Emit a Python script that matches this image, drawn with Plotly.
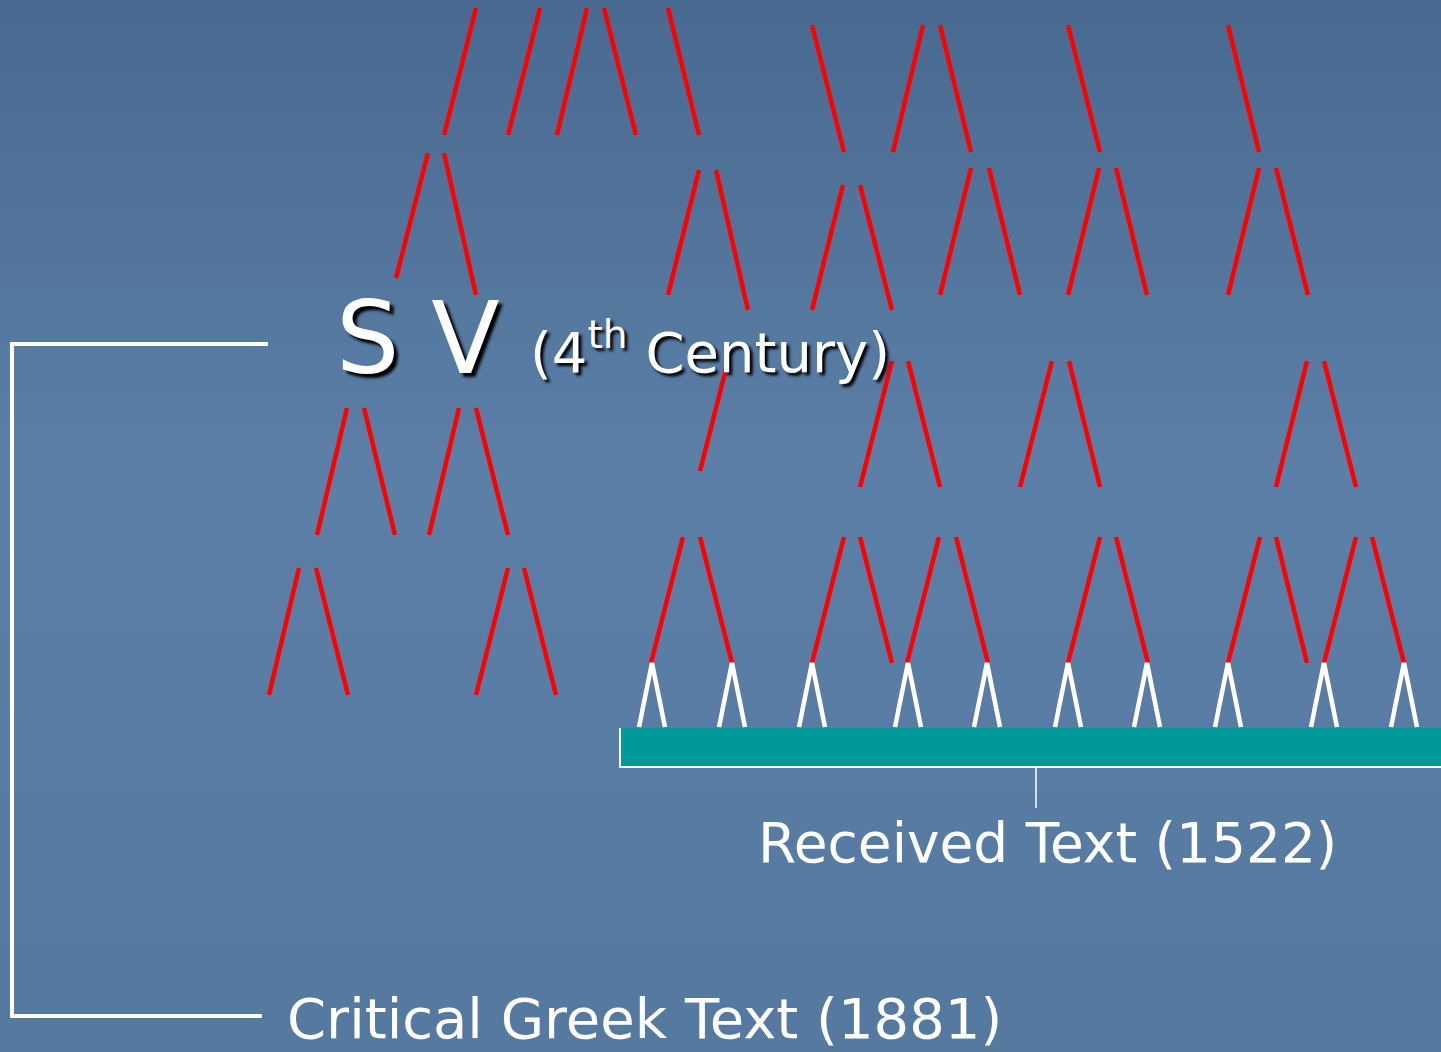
import plotly.graph_objects as go

# ---- data: red manuscript branches (x0, y0, x1, y1) in slide pixels ----
red_x0 = [476, 540, 587, 604, 668,
          812, 923, 940, 1068, 1228,
          428, 444, 699, 716, 843, 860, 971, 989, 1099, 1116, 1259, 1276,
          347, 364, 459, 476, 728, 892, 908, 1052, 1069, 1307, 1324,
          299, 316, 508, 524,
          683, 700, 844, 860, 939, 956, 1100, 1116, 1260, 1276, 1356, 1372]
red_y0 = [8, 8, 8, 8, 8,
          25, 25, 25, 25, 25,
          153, 153, 170, 170, 185, 185, 168, 168, 168, 168, 168, 168,
          408, 408, 408, 408, 361, 361, 361, 361, 361, 361, 361,
          568, 568, 568, 568,
          537, 537, 537, 537, 537, 537, 537, 537, 537, 537, 537, 537]
red_x1 = [444, 508, 557, 636, 699,
          844, 893, 971, 1100, 1259,
          396, 476, 668, 748, 812, 892, 940, 1020, 1068, 1147, 1228, 1308,
          317, 395, 429, 508, 700, 860, 940, 1020, 1100, 1276, 1356,
          269, 348, 476, 556,
          651, 732, 812, 892, 907, 988, 1068, 1148, 1228, 1307, 1324, 1404]
red_y1 = [135, 135, 135, 135, 135,
          152, 152, 152, 152, 152,
          278, 295, 295, 310, 310, 310, 295, 295, 295, 295, 295, 295,
          535, 535, 535, 535, 471, 487, 487, 487, 487, 487, 487,
          695, 695, 695, 695,
          663, 663, 663, 663, 663, 663, 663, 663, 663, 663, 663, 663]

# white carets feeding the Received Text
caret_x = [652, 732, 812, 908, 987, 1068, 1147, 1228, 1324, 1404]
caret_top = 663
caret_base = 727
caret_half = 13

W, H = 1441, 1052

fig = go.Figure()

# background gradient bands
top_rgb = (74, 107, 145)
mid_rgb = (92, 128, 168)
bot_rgb = (86, 121, 160)
nb = 40
for i in range(nb):
    t = i / (nb - 1)
    if t < 0.45:
        u = t / 0.45
        c = [top_rgb[k] + (mid_rgb[k] - top_rgb[k]) * u for k in range(3)]
    else:
        u = (t - 0.45) / 0.55
        c = [mid_rgb[k] + (bot_rgb[k] - mid_rgb[k]) * u for k in range(3)]
    fig.add_shape(type="rect", xref="x", yref="y",
                  x0=0, x1=W, y0=H * i / nb, y1=H * (i + 1) / nb + 1,
                  fillcolor="rgb(%d,%d,%d)" % tuple(int(v) for v in c),
                  line=dict(width=0), layer="below")

# red lines
rx, ry = [], []
for a, b, c, d in zip(red_x0, red_y0, red_x1, red_y1):
    rx += [a, c, None]
    ry += [b, d, None]
fig.add_trace(go.Scatter(x=rx, y=ry, mode="lines",
                         line=dict(color="#ff0000", width=4.5),
                         hoverinfo="skip", showlegend=False))

# white carets
wx, wy = [], []
for cx in caret_x:
    wx += [cx - caret_half, cx, cx + caret_half, None]
    wy += [caret_base, caret_top, caret_base, None]
fig.add_trace(go.Scatter(x=wx, y=wy, mode="lines",
                         line=dict(color="white", width=4.5),
                         hoverinfo="skip", showlegend=False))

# teal bar for the Received Text
fig.add_shape(type="rect", x0=620, x1=W + 5, y0=728, y1=767,
              fillcolor="#009999", line=dict(width=0))
fig.add_shape(type="path", path="M 620 728 L 620 767 L %d 767" % (W + 5),
              line=dict(color="white", width=2))
fig.add_shape(type="line", x0=1036, x1=1036, y0=767, y1=808,
              line=dict(color="white", width=1.5))

# left bracket for the Critical Text
fig.add_shape(type="path", path="M 268 344 L 12 344 L 12 1016 L 262 1016",
              line=dict(color="white", width=4))

font_fam = "DejaVu Sans, Verdana, sans-serif"
fig.add_annotation(x=334, y=338, xref="x", yref="y", text="S V",
                   showarrow=False, xanchor="left", yanchor="middle",
                   font=dict(family=font_fam, size=100, color="white",
                             shadow="4px 4px 3px black"))
fig.add_annotation(x=528, y=348, xref="x", yref="y",
                   text="(4<sup>th</sup> Century)",
                   showarrow=False, xanchor="left", yanchor="middle",
                   font=dict(family=font_fam, size=56, color="white",
                             shadow="3px 3px 3px black"))
fig.add_annotation(x=1047, y=843, xref="x", yref="y",
                   text="Received Text (1522)",
                   showarrow=False, xanchor="center", yanchor="middle",
                   font=dict(family=font_fam, size=55, color="white"))
fig.add_annotation(x=285, y=1018, xref="x", yref="y",
                   text="Critical Greek Text (1881)",
                   showarrow=False, xanchor="left", yanchor="middle",
                   font=dict(family=font_fam, size=56, color="white"))

fig.update_layout(
    width=W, height=H,
    margin=dict(l=0, r=0, t=0, b=0),
    paper_bgcolor="rgb(86,121,160)",
    plot_bgcolor="rgba(0,0,0,0)",
    xaxis=dict(range=[0, W], visible=False, fixedrange=True),
    yaxis=dict(range=[H, 0], visible=False, fixedrange=True),
    showlegend=False,
)

fig.write_html("out.html",
               config={"displayModeBar": False, "staticPlot": True},
               post_script="document.body.style.margin='0';"
                           "document.body.style.padding='0';"
                           "document.body.style.overflow='hidden';")
